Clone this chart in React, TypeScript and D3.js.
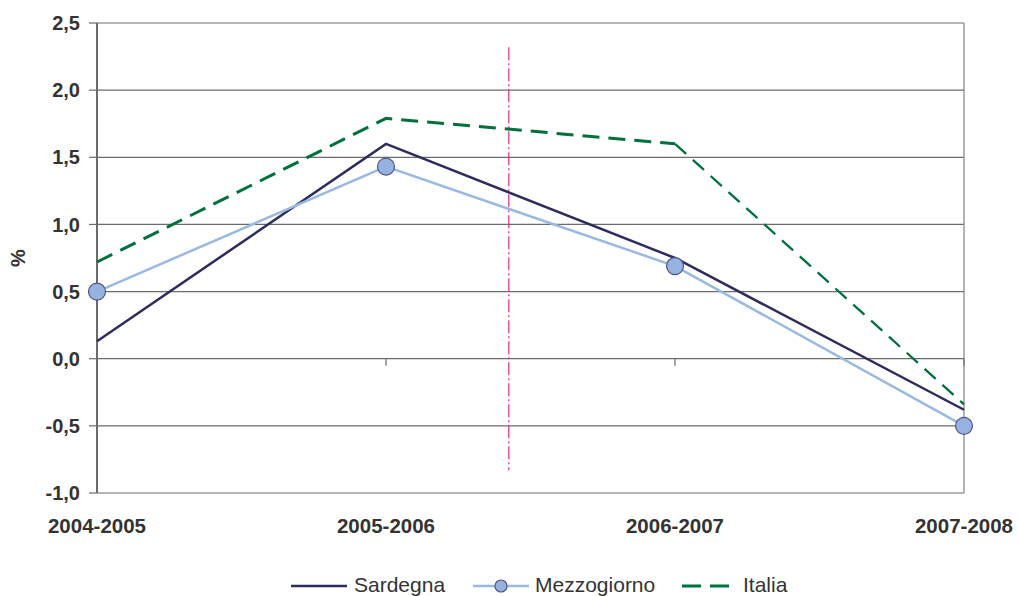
import React from "react";
import * as d3 from "d3";

const categories = ["2004-2005", "2005-2006", "2006-2007", "2007-2008"];
const sardegna = [0.13, 1.6, 0.75, -0.38];
const mezzogiorno = [0.5, 1.43, 0.69, -0.5];
const italia = [0.72, 1.79, 1.6, -0.34];
const yTicks = [-1.0, -0.5, 0.0, 0.5, 1.0, 1.5, 2.0, 2.5];
const markerLine = { x: 1.425, y0: 2.32, y1: -0.83 };

const W = 1019;
const H = 596;
const M = { left: 97, right: 964, top: 23, bottom: 493 };
const FONT = "'Liberation Sans', Arial, Helvetica, sans-serif";

export default function App() {
  const x = d3.scaleLinear().domain([0, categories.length - 1]).range([M.left, M.right]);
  const y = d3.scaleLinear().domain([-1, 2.5]).range([M.bottom, M.top]);
  const line = d3
    .line<number>()
    .x((d, i) => x(i))
    .y((d) => y(d));
  const seg = d3
    .line<[number, number]>()
    .x((d) => x(d[0]))
    .y((d) => y(d[1]));
  const fmt = (v: number) => v.toFixed(1).replace(".", ",");
  const italiaMain = italia.slice(0, 3);
  const italiaLast: [number, number][] = [
    [2, italia[2]],
    [3, italia[3]],
  ];

  return (
    <svg
      width={W}
      height={H}
      style={{ position: "absolute", left: 0, top: 0, fontFamily: FONT }}
    >
      <rect width={W} height={H} fill="#fff" />
      {yTicks.map((t) => (
        <g key={t}>
          <line x1={M.left} x2={M.right} y1={y(t)} y2={y(t)} stroke="#6b6b6b" strokeWidth={1.2} />
          <line x1={M.left - 8} x2={M.left} y1={y(t)} y2={y(t)} stroke="#6b6b6b" strokeWidth={1.2} />
          <text
            x={80}
            y={y(t)}
            dy="0.36em"
            textAnchor="end"
            fontSize={20}
            fontWeight="bold"
            fill="#333"
          >
            {fmt(t)}
          </text>
        </g>
      ))}
      <line x1={M.right} x2={M.right} y1={M.top} y2={M.bottom} stroke="#8a7f7f" strokeWidth={1.2} />
      <line x1={M.left} x2={M.left} y1={M.top} y2={M.bottom} stroke="#6b6b6b" strokeWidth={2} />
      {categories.map((c, i) =>
        i > 0 ? (
          <line key={c} x1={x(i)} x2={x(i)} y1={y(0)} y2={y(0) + 7} stroke="#6b6b6b" strokeWidth={1.2} />
        ) : null
      )}
      {categories.map((c, i) => (
        <text
          key={c}
          x={x(i)}
          y={533}
          textAnchor="middle"
          fontSize={20.5}
          fontWeight="bold"
          fill="#333"
        >
          {c}
        </text>
      ))}
      <text
        transform={`translate(25, ${y(0.75)}) rotate(-90)`}
        textAnchor="middle"
        fontSize={20}
        fontWeight="bold"
        fill="#333"
      >
        %
      </text>
      <line
        x1={x(markerLine.x)}
        x2={x(markerLine.x)}
        y1={y(markerLine.y0)}
        y2={y(markerLine.y1)}
        stroke="#e6278a"
        strokeWidth={1.2}
        strokeDasharray="13 3 2 3"
      />
      <path d={line(italiaMain) || ""} fill="none" stroke="#00703c" strokeWidth={3} strokeDasharray="17 9" />
      <path d={seg(italiaLast) || ""} fill="none" stroke="#00703c" strokeWidth={2.3} strokeDasharray="15 9" />
      <path d={line(sardegna) || ""} fill="none" stroke="#2e2b5f" strokeWidth={2.5} />
      <path d={line(mezzogiorno) || ""} fill="none" stroke="#99b9e2" strokeWidth={2.5} />
      {mezzogiorno.map((v, i) => (
        <circle key={i} cx={x(i)} cy={y(v)} r={8.5} fill="#95b3de" stroke="#4f5285" strokeWidth={1.2} />
      ))}
      <g fontSize={21} fill="#333">
        <line x1={291} x2={347} y1={586} y2={586} stroke="#2e2b5f" strokeWidth={2.5} />
        <text x={354} y={592}>Sardegna</text>
        <line x1={473} x2={529} y1={586} y2={586} stroke="#99b9e2" strokeWidth={2.5} />
        <circle cx={501} cy={586} r={6} fill="#95b3de" stroke="#4f5285" strokeWidth={1.2} />
        <text x={535} y={592}>Mezzogiorno</text>
        <line x1={682} x2={729} y1={586} y2={586} stroke="#00703c" strokeWidth={3} strokeDasharray="19 9" />
        <text x={743} y={592}>Italia</text>
      </g>
    </svg>
  );
}
